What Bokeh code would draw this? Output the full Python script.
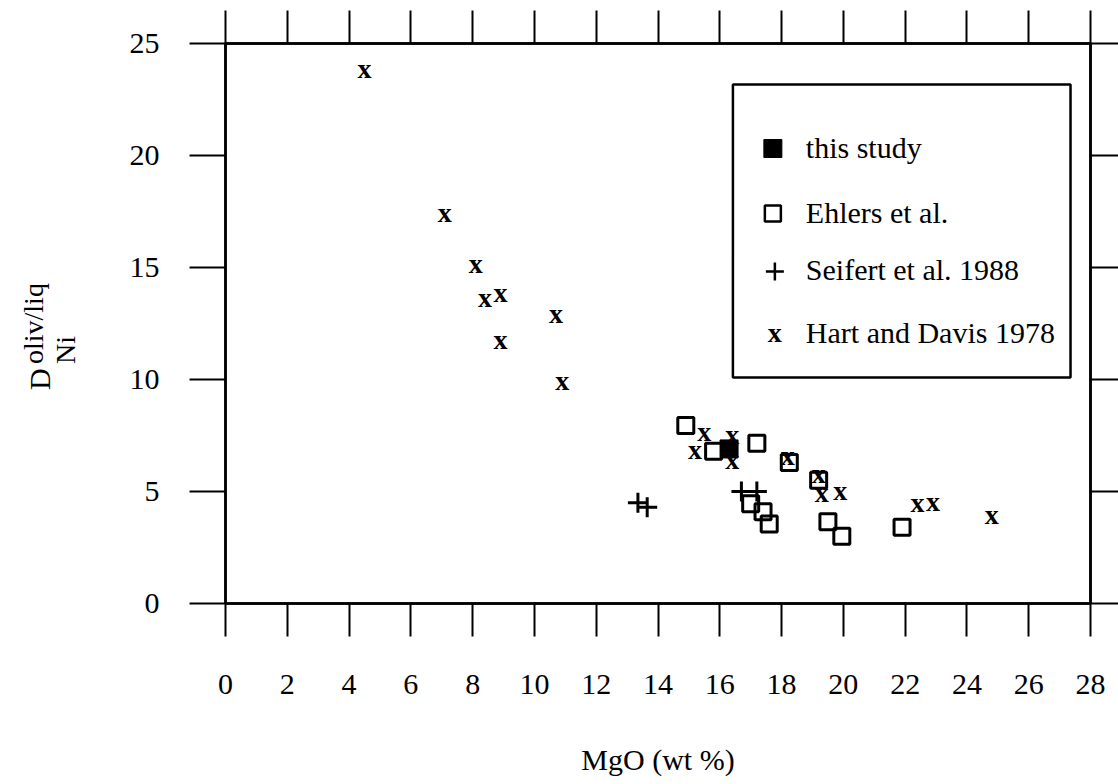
from bokeh.plotting import figure
from bokeh.layouts import row
from bokeh.models import Label, BoxAnnotation, FixedTicker, LinearAxis, Range1d, ColumnDataSource, Div
from bokeh.core.properties import value
from bokeh.embed import file_html
from bokeh.resources import INLINE

# ---------------- data ----------------
this_study_mgo = [16.3]
this_study_d = [6.9]

ehlers_mgo = [14.9, 15.8, 17.2, 18.25, 19.2, 17.0, 17.4, 17.6, 19.5, 19.95, 21.9]
ehlers_d = [7.95, 6.8, 7.15, 6.3, 5.5, 4.45, 4.1, 3.55, 3.65, 3.0, 3.4]

seifert_mgo = [13.35, 13.65, 16.7, 17.2]
seifert_d = [4.5, 4.3, 5.0, 5.0]

hart_mgo = [4.5, 7.1, 8.1, 8.4, 8.9, 10.7, 8.9, 10.9, 15.5, 15.2, 16.4, 16.4,
            18.2, 19.2, 19.3, 19.9, 22.4, 22.9, 24.8]
hart_d = [23.8, 17.4, 15.1, 13.6, 13.8, 12.9, 11.7, 9.9, 7.6, 6.8, 7.5, 6.35,
          6.55, 5.75, 4.9, 5.0, 4.45, 4.5, 3.9]

x_ticks = list(range(0, 29, 2))
y_ticks = [0, 5, 10, 15, 20, 25]
legend_labels = ["this study", "Ehlers et al.", "Seifert et al. 1988", "Hart and Davis 1978"]
x_label = "MgO (wt %)"
y_label_parts = ["D", "oliv/liq", "Ni"]

# ---------------- layout ----------------
W, H = 1118, 784
SIDE = 100                      # width of the strip holding the y label
LEFT, RIGHT, TOP, BOTTOM = 225, 27, 43, 181
FW, FH = W - LEFT - RIGHT, H - TOP - BOTTOM
XMIN, XMAX, YMIN, YMAX = 0, 28, 0, 25
FONT = "Liberation Serif"
BASE_FIX = 8                    # alphabetic baseline correction (px)


def dx(px):
    return XMIN + (px - LEFT) / FW * (XMAX - XMIN)


def dy(py):
    return YMIN + (TOP + FH - py) / FH * (YMAX - YMIN)


# ---------- strip with the rotated y-axis label (HTML text) ----------
# (baseline x, start y) in page pixels, and font size of each part
spans = []
for txt, base_x, start_y, fs in zip(y_label_parts, [50, 43, 75], [390, 364, 364], [30, 28, 28]):
    left = base_x - 0.8375 * fs
    spans.append(
        f'<span style="position:absolute;left:{left:.1f}px;top:{start_y}px;'
        f'transform-origin:0 0;transform:rotate(-90deg);font-size:{fs}px;'
        f'line-height:1;white-space:nowrap;">{txt}</span>'
    )
side = Div(
    text=(f'<div style="position:relative;width:{SIDE}px;height:{H}px;'
          f'font-family:\'{FONT}\';color:black;">' + "".join(spans) + "</div>"),
    width=SIDE, height=H, margin=0,
)

# ---------- main plot ----------
p = figure(width=W - SIDE, height=H, x_range=Range1d(XMIN, XMAX), y_range=Range1d(YMIN, YMAX),
           output_backend="svg", toolbar_location=None,
           min_border_left=LEFT - SIDE, min_border_right=RIGHT,
           min_border_top=TOP, min_border_bottom=BOTTOM)
p.grid.visible = False
p.background_fill_color = "white"
p.border_fill_color = "white"
p.outline_line_color = "black"
p.outline_line_width = 2.5


def style_axis(ax, ticks, tick_out, show_labels, standoff):
    ax.ticker = FixedTicker(ticks=ticks)
    ax.major_tick_out = tick_out
    ax.major_tick_in = 0
    ax.major_tick_line_width = 2
    ax.major_tick_line_color = "black"
    ax.minor_tick_line_color = None
    ax.axis_line_color = "black"
    ax.axis_line_width = 2.5
    ax.major_label_standoff = standoff
    if show_labels:
        ax.major_label_text_font = FONT
        ax.major_label_text_font_size = "30px"
        ax.major_label_text_color = "black"
    else:
        ax.major_label_text_font_size = "0px"
        ax.major_label_text_color = None


bx = p.xaxis[0]
style_axis(bx, x_ticks, 33, True, 38)
bx.axis_label = x_label
bx.axis_label_text_font = FONT
bx.axis_label_text_font_size = "30px"
bx.axis_label_text_font_style = "normal"
bx.axis_label_text_color = "black"
bx.axis_label_standoff = 46

ly = p.yaxis[0]
style_axis(ly, y_ticks, 36, True, 30)

top_ax = LinearAxis()
style_axis(top_ax, x_ticks, 33, False, 0)
p.add_layout(top_ax, "above")

right_ax = LinearAxis()
style_axis(right_ax, y_ticks, 28, False, 0)
p.add_layout(right_ax, "right")

# ---------------- data marks ----------------
p.scatter(x=ehlers_mgo, y=ehlers_d, marker="square", size=16, fill_alpha=0,
          line_color="black", line_width=3)
p.scatter(x=seifert_mgo, y=seifert_d, marker="cross", size=20,
          line_color="black", line_width=3)
p.scatter(x=this_study_mgo, y=this_study_d, marker="square", size=18,
          fill_color="black", line_color="black", line_width=1)
hart_src = ColumnDataSource(dict(x=hart_mgo, y=hart_d))
p.text(x="x", y="y", source=hart_src, text=value("x"), text_font=value(FONT),
       text_font_style="bold", text_font_size=value("28px"), text_color="black",
       text_align="center", text_baseline="alphabetic", y_offset=6.5 - BASE_FIX)

# ---------------- legend ----------------
p.add_layout(BoxAnnotation(left=dx(733), right=dx(1071), top=dy(84), bottom=dy(377),
                           fill_alpha=0, line_color="black", line_alpha=1, line_width=2.5))
p.scatter(x=[dx(773)], y=[dy(148)], marker="square", size=18,
          fill_color="black", line_color="black", line_width=1)
p.scatter(x=[dx(773)], y=[dy(213)], marker="square", size=16, fill_alpha=0,
          line_color="black", line_width=2.5)
p.scatter(x=[dx(775)], y=[dy(271)], marker="cross", size=18,
          line_color="black", line_width=2.5)
p.text(x=[dx(775)], y=[dy(333)], text=value("x"), text_font=value(FONT),
       text_font_style="bold", text_font_size=value("28px"), text_color="black",
       text_align="center", text_baseline="alphabetic", y_offset=6.5 - BASE_FIX)

for lbl, base_y in zip(legend_labels, [155, 220, 277, 340]):
    p.add_layout(Label(x=dx(806), y=dy(base_y - BASE_FIX), text=lbl, text_font=FONT,
                       text_font_size="30px", text_color="black",
                       text_align="left", text_baseline="alphabetic"))

layout = row(side, p, spacing=0)
open("out.html", "w").write(file_html(layout, INLINE))
